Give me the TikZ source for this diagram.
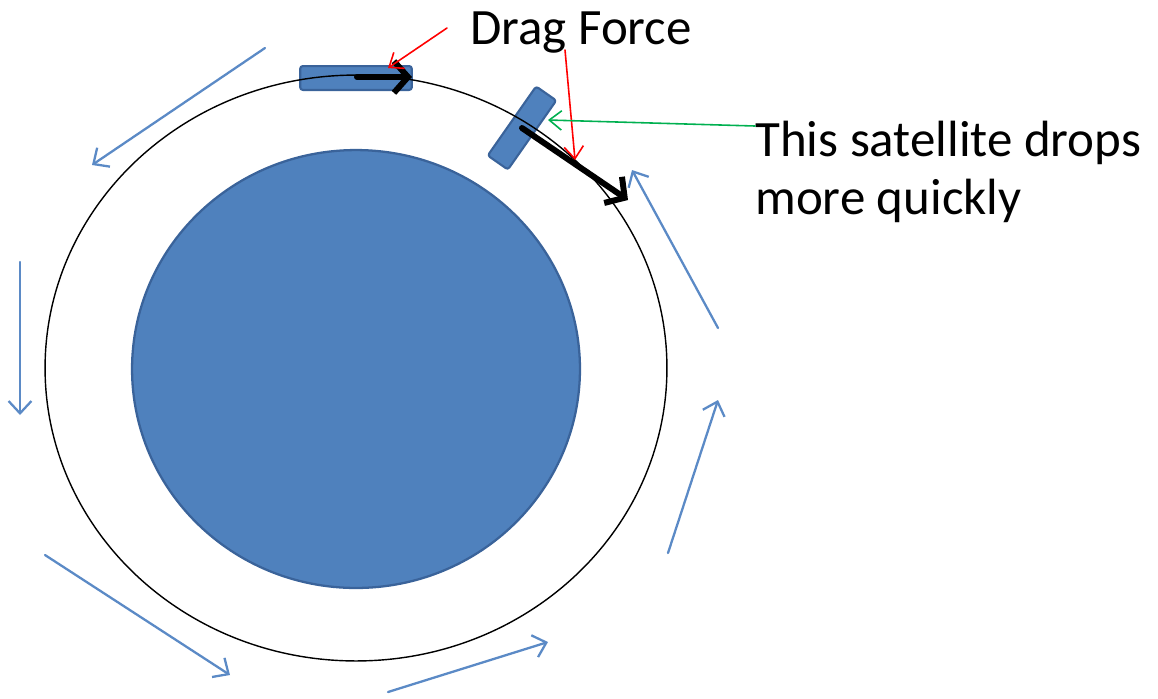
\documentclass[tikz,border=0pt]{standalone}
\usepackage{fontspec}
\setmainfont{Carlito}
\usetikzlibrary{arrows.meta,positioning}
\definecolor{earthblue}{HTML}{4F81BD}
\definecolor{earthedge}{HTML}{3A639A}
\definecolor{flowblue}{HTML}{5B8AC6}
\definecolor{dragred}{HTML}{FF0000}
\definecolor{notegreen}{HTML}{00B050}
\tikzset{
  sat/.style={draw=earthedge,line width=1.2pt,fill=earthblue,rounded corners=1.5pt,inner sep=0pt},
  flow/.style={flowblue,line width=1.3pt,-{Straight Barb[length=7pt,width=13pt,line width=1.3pt]}},
  velo/.style={black,line width=3.4pt,-{Straight Barb[length=8pt,width=18pt,line width=3.4pt]}},
  drag/.style={dragred,line width=0.9pt,-{Straight Barb[length=7pt,width=11pt,line width=0.9pt]}},
  label/.style={font=\fontsize{29}{33}\selectfont,inner sep=0pt}
}
\begin{document}
\begin{tikzpicture}[x=0.02cm,y=-0.02cm,line cap=round,line join=round]
  \useasboundingbox (0,0) rectangle (1158,698);
  % earth
  \fill[earthblue,draw=earthedge,line width=1.3pt] (356,369) ellipse [x radius=4.48cm,y radius=4.38cm];
  % satellites
  \node[sat,minimum width=63.5pt,minimum height=13.6pt] (sat1) at (356,78) {};
  \node[sat,minimum width=48pt,minimum height=14pt,rotate=55] (sat2) at (522,128) {};
  % orbit
  \draw[line width=0.8pt] (356,368) ellipse [x radius=6.22cm,y radius=5.86cm];
  % velocities
  \coordinate (v1) at (412,77); \coordinate (v2) at (628,200);
  \draw[velo] (357,77) -- (v1);
  \draw[velo] (sat2.center) -- (v2);
  % labels
  \node[label,anchor=base west] (drag) at (470,44) {Drag Force};
  \node[label,anchor=north west,align=left] (note) at (755,121) {This satellite drops\\more quickly};
  \coordinate (d1) at (447,28); \coordinate (d2) at (565,50);
  \draw[drag] (d1) -- (388,68);
  \draw[drag] (d2) -- (575,160);
  \coordinate (g1) at (755,126);
  \draw[notegreen,line width=0.9pt,-{Straight Barb[length=7pt,width=11pt,line width=0.9pt]}] (g1) -- (548,120);
  % direction of motion
  \draw[flow] (265,48) -- (92,165);
  \draw[flow] (20,262) -- (20,415);
  \draw[flow] (45,555) -- (230,675);
  \draw[flow] (388,692) -- (548,642);
  \draw[flow] (668,553) -- (718,400);
  \draw[flow] (718,328) -- (632,170);
\end{tikzpicture}
\end{document}
